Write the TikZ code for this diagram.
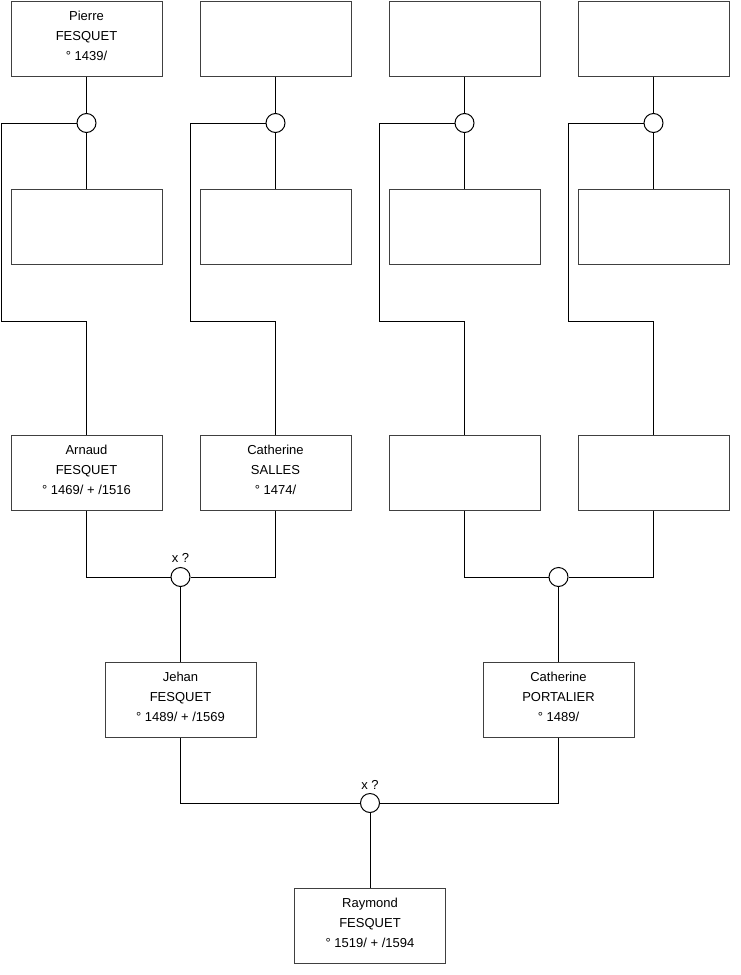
\documentclass[tikz,border=0pt]{standalone}
\usepackage{fontspec}
\setmainfont{Liberation Sans}
\begin{document}
\begin{tikzpicture}[x=0.75pt,y=-0.75pt,
  pbox/.style={draw=black!75,line width=0.75pt,fill=white,minimum width=113.25pt,minimum height=56.25pt,inner sep=0pt,align=center,text depth=4.5pt,font=\fontsize{9.75pt}{15pt}\selectfont},
  union/.style={circle,draw=black,line width=0.75pt,fill=white,minimum size=14.25pt,inner sep=0pt},
  lnk/.style={draw=black,line width=0.75pt},
  lbl/.style={font=\fontsize{9.75pt}{12pt}\selectfont,inner sep=0pt}]
\useasboundingbox (0,0) rectangle (740,975);
% top rows
\foreach \i/\x in {1/86.5,2/275.5,3/464.5,4/653.5}{
  \coordinate (L\i a) at (\x-85.5,123);
  \coordinate (L\i b) at (\x-85.5,321.5);
  \coordinate (L\i c) at (\x,321.5);
}
\node[pbox] (t1) at (86.5,38.5) {Pierre\\FESQUET\\° 1439/};
\node[pbox] (t2) at (275.5,38.5) {};
\node[pbox] (t3) at (464.5,38.5) {};
\node[pbox] (t4) at (653.5,38.5) {};
\node[pbox] (m1) at (86.5,227) {};
\node[pbox] (m2) at (275.5,227) {};
\node[pbox] (m3) at (464.5,227) {};
\node[pbox] (m4) at (653.5,227) {};
\node[pbox] (b1) at (86.5,472.5) {Arnaud\\FESQUET\\° 1469/ + /1516};
\node[pbox] (b2) at (275.5,472.5) {Catherine\\SALLES\\° 1474/};
\node[pbox] (b3) at (464.5,472.5) {};
\node[pbox] (b4) at (653.5,472.5) {};
\node[pbox] (j) at (180.5,699.5) {Jehan\\FESQUET\\° 1489/ + /1569};
\node[pbox] (p) at (558.5,699.5) {Catherine\\PORTALIER\\° 1489/};
\node[pbox] (r) at (370,925.5) {Raymond\\FESQUET\\° 1519/ + /1594};
\foreach \i/\x in {1/86.5,2/275.5,3/464.5,4/653.5}{
  \node[union] (c\i) at (\x,123) {};
  \draw[lnk] (t\i.south) -- (c\i.north);
  \draw[lnk] (c\i.south) -- (m\i.north);
  \draw[lnk] (c\i.west) -- (L\i a) -- (L\i b) -- (L\i c) -- (b\i.north);
}
\node[union] (u1) at (180.5,577) {};
\node[union] (u2) at (558.5,577) {};
\node[union] (u3) at (370,803) {};
\node[lbl] (x1) at (180.5,558) {x ?};
\node[lbl] (x3) at (370,785) {x ?};
\draw[lnk] (b1.south) |- (u1.west);
\draw[lnk] (b2.south) |- (u1.east);
\draw[lnk] (u1.south) -- (j.north);
\draw[lnk] (b3.south) |- (u2.west);
\draw[lnk] (b4.south) |- (u2.east);
\draw[lnk] (u2.south) -- (p.north);
\draw[lnk] (j.south) |- (u3.west);
\draw[lnk] (p.south) |- (u3.east);
\draw[lnk] (u3.south) -- (r.north);
\end{tikzpicture}
\end{document}
